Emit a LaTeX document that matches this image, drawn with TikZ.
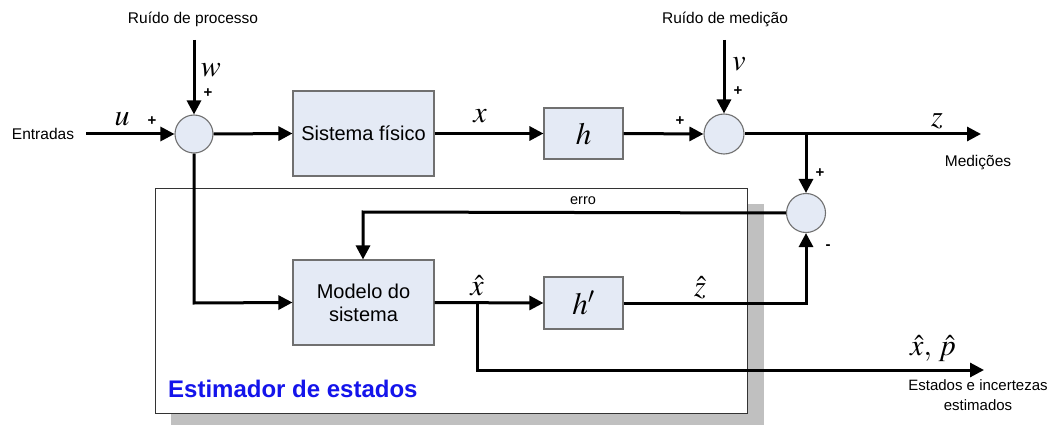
\documentclass[tikz,border=0pt]{standalone}
\usepackage{mathptmx}
\usepackage{fontspec}
\setmainfont{Liberation Sans}
\usetikzlibrary{arrows.meta}

\definecolor{boxfill}{HTML}{E4EAF5}
\definecolor{boxline}{HTML}{707070}
\definecolor{shadowgray}{HTML}{C0C0C0}
\definecolor{estblue}{RGB}{20,20,235}

\tikzset{
  flow/.style={line width=3pt, -{Triangle[length=14pt,width=14pt]}},
  block/.style={draw=boxline, fill=boxfill, line width=1.1pt, rectangle, inner sep=0pt,
                font=\fontsize{20}{23}\selectfont, align=center},
  sumnode/.style={draw=boxline, fill=boxfill, line width=1.1pt, circle, inner sep=0pt},
  lbl/.style={font=\fontsize{15.5}{18}\selectfont, inner sep=0pt, align=center},
  sgn/.style={font=\bfseries\fontsize{15}{15}\selectfont, inner sep=0pt},
  var/.style={font=\fontsize{30}{30}\selectfont, inner sep=0pt},
}

\begin{document}
\begin{tikzpicture}[x=1pt, y=-1pt]
  \useasboundingbox (0,0) rectangle (1063,425);

  % estimator frame with its drop shadow
  \fill[shadowgray] (171,204) rectangle (764,432);
  \draw[fill=white, draw=black!80, line width=0.9pt] (155,188) rectangle (747,413);
  \node[anchor=west, font=\bfseries\fontsize{24}{26}\selectfont, text=estblue, inner sep=0pt]
    (esttitle) at (168,389) {Estimador de estados};

  % blocks and summing junctions
  \node[sumnode, minimum size=38pt] (s1) at (194,134) {};
  \node[block, minimum width=141pt, minimum height=85pt] (sys) at (363.5,133.5) {Sistema físico};
  \node[block, minimum width=79pt, minimum height=51pt] (h) at (583.5,133.5) {\fontsize{31}{31}\selectfont$h$};
  \node[sumnode, minimum size=40pt] (s2) at (724,134) {};
  \node[sumnode, minimum size=39pt] (s3) at (806,213) {};
  \node[block, minimum width=141pt, minimum height=85pt] (model) at (363.5,302.5) {Modelo do\\sistema};
  \node[block, minimum width=79pt, minimum height=52pt] (hp) at (583.5,303) {\fontsize{31}{31}\selectfont$h'$};

  % free ends and bends of the signals
  \coordinate (uin) at (86,134);
  \coordinate (win) at (194,40);
  \coordinate (vin) at (724,40);
  \coordinate (zout) at (981,134);
  \coordinate (zbr) at (806,134);
  \coordinate (ecorner) at (363,212);
  \coordinate (wcorner) at (194,303);
  \coordinate (xbr) at (477,303);
  \coordinate (xcorner) at (477,370);
  \coordinate (xout) at (984,370);
  \coordinate (zhcorner) at (806,303);

  % texts
  \node[lbl] (tentr) at (43,134) {Entradas};
  \node[lbl] (tproc) at (193,19) {Ruído de processo};
  \node[lbl] (tmed) at (725,19) {Ruído de medição};
  \node[lbl] (tmeds) at (978,163) {Medições};
  \node[lbl, font=\fontsize{14.5}{17}\selectfont] (terro) at (583,201) {erro};
  \node[lbl, font=\fontsize{15}{20}\selectfont] (test) at (978,395) {Estados e incertezas\\estimados};

  \node[var] (lu) at (122,119) {$u$};
  \node[var] (lw) at (211,70) {$w$};
  \node[var] (lx) at (480,116) {$x$};
  \node[var] (lv) at (739,64) {$v$};
  \node[var] (lz) at (937,121) {$z$};
  \node[var] (lxh) at (477,286) {$\hat{x}$};
  \node[var] (lzh) at (700,288) {$\hat{z}$};
  \node[var] (lxp) at (933,349) {$\hat{x},\,\hat{p}$};

  \node[sgn] (pu) at (152,121) {+};
  \node[sgn] (pw) at (208,93) {+};
  \node[sgn] (ph) at (680,121) {+};
  \node[sgn] (pv) at (738,91) {+};
  \node[sgn] (pz) at (820,173) {+};
  \node[sgn] (mz) at (828,247) {-};

  % signal flow
  \draw[flow] (uin) -- (s1.west);
  \draw[flow] (win) -- (s1.north);
  \draw[flow] (s1.east) -- (sys.west);
  \draw[flow] (sys.east) -- (h.west);
  \draw[flow] (h.east) -- (s2.west);
  \draw[flow] (vin) -- (s2.north);
  \draw[flow] (s2.east) -- (zout);
  \draw[flow] (zbr) -- (s3.north);
  \draw[flow] (s3.west) -- (ecorner) -- (model.north -| ecorner);
  \draw[flow] (s1.south) -- (wcorner) -- (model.west);
  \draw[flow] (model.east) -- (hp.west);
  \draw[flow] (xbr) -- (xcorner) -- (xout);
  \draw[flow] (hp.east) -- (zhcorner) -- (s3.south);
\end{tikzpicture}
\end{document}
